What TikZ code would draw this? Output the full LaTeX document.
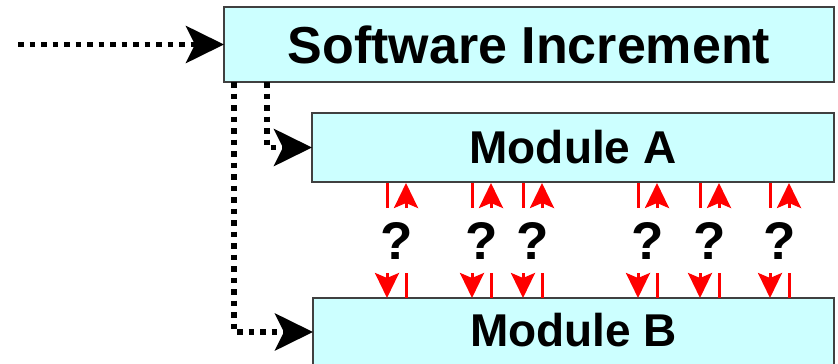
\documentclass[tikz,border=0pt]{standalone}
\usepackage{fontspec}
\setmainfont{Liberation Sans}
\usetikzlibrary{arrows.meta}
\definecolor{boxfill}{RGB}{204,255,255}
\definecolor{boxline}{RGB}{64,64,64}
\begin{document}
\begin{tikzpicture}[x=1pt,y=-1pt,
  box/.style={draw=boxline, line width=1.5pt, fill=boxfill, inner sep=0pt, outer sep=0pt},
  bigtext/.style={font=\fontsize{52}{60}\selectfont\bfseries},
  modtext/.style={font=\fontsize{46}{54}\selectfont\bfseries},
  qmark/.style={font=\fontsize{53}{60}\selectfont\bfseries, inner sep=0pt},
  dotarrow/.style={line width=5.5pt, dash pattern=on 5.5pt off 6pt,
    -{Stealth[length=38pt,width=37pt,inset=9pt]}},
  redline/.style={draw=red, line width=3pt},
  redarrow/.style={redline, -{Stealth[length=25pt,width=24pt,inset=5pt]}}
]
\useasboundingbox (0,0) rectangle (838,364);
\node[box, bigtext, minimum width=610pt, minimum height=75pt] (si) at (529,44.5) {Software Increment};
\node[box, modtext, minimum width=522pt, minimum height=69pt] (ma) at (573,147.5) {Module A};
\node[box, modtext, minimum width=521pt, minimum height=76pt, text depth=12pt] (mb) at (573.5,336) {Module B};
\coordinate (start) at (18,44.5);
\draw[dotarrow] (start) -- (si.west);
\draw[dotarrow] ([xshift=43pt]si.south west) |- (ma.west);
\draw[dotarrow] ([xshift=10pt]si.south west) |- ([yshift=4pt]mb.west);
\foreach \x [count=\i] in {397,482,533,648,710,780} {
  \node[qmark] (q\i) at (\x,241) {?};
  \coordinate (lt\i) at (\x-10,183);
  \coordinate (lm\i) at (\x-10,208);
  \coordinate (rt\i) at (\x+9,183);
  \coordinate (rm\i) at (\x+9,208);
  \coordinate (lb\i) at (\x-10,273);
  \coordinate (le\i) at (\x-10,298);
  \coordinate (rb\i) at (\x+9,273);
  \coordinate (re\i) at (\x+9,298);
  \draw[redline] (lt\i) -- (lm\i);
  \draw[redarrow] (rm\i) -- (rt\i);
  \draw[redarrow] (lb\i) -- (le\i);
  \draw[redline] (rb\i) -- (re\i);
}
\end{tikzpicture}
\end{document}
